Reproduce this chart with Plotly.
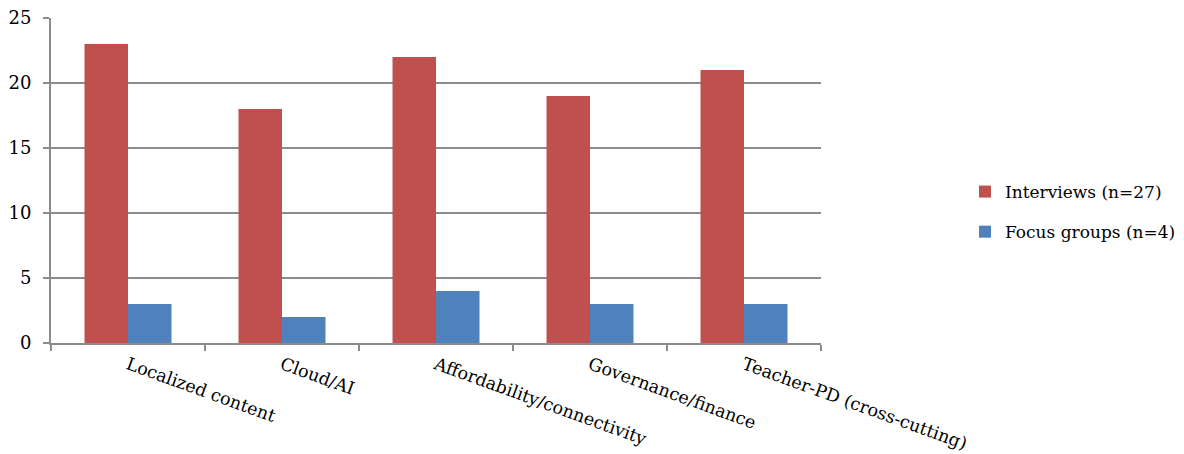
import plotly.graph_objects as go

categories = ["Localized content", "Cloud/AI", "Affordability/connectivity", "Governance/finance", "Teacher-PD (cross-cutting)"]
interviews = [23, 18, 22, 19, 21]
focus_groups = [3, 2, 4, 3, 3]
series_names = ["Interviews (n=27)", "Focus groups (n=4)"]
y_ticks = [0, 5, 10, 15, 20, 25]

FONT = "DejaVu Serif"
GRID = "#8c8c8c"

fig = go.Figure()
fig.add_trace(go.Bar(x=categories, y=interviews, name=series_names[0], legendgroup="a",
                     marker=dict(color="#C0504D", line=dict(width=0))))
fig.add_trace(go.Bar(x=categories, y=focus_groups, name=series_names[1], legendgroup="b",
                     marker=dict(color="#4F81BD", line=dict(width=0))))

fig.update_layout(
    width=1176, height=446,
    margin=dict(l=43, r=363, t=10, b=111, autoexpand=False),
    paper_bgcolor="white", plot_bgcolor="white",
    barmode="group", bargap=0.435, bargroupgap=0,
    font=dict(family=FONT, size=17, color="black"),
    showlegend=True,
    legend=dict(x=1.187, xanchor="left", y=0.403, yanchor="middle",
                font=dict(family=FONT, size=17, color="black"),
                tracegroupgap=15, itemwidth=30),
    xaxis=dict(type="category", tickangle=20, showgrid=False, automargin=False,
               showline=True, linecolor=GRID, linewidth=2,
               ticks="outside", tickson="boundaries", ticklen=6, tickwidth=2, tickcolor=GRID,
               ticklabelstandoff=3, ticklabeloverflow="allow",
               tickfont=dict(family=FONT, size=17.5)),
    yaxis=dict(range=[0, 25], tickvals=y_ticks, showgrid=True, gridcolor=GRID, gridwidth=2,
               automargin=False,
               showline=True, linecolor=GRID, linewidth=2, zeroline=False,
               ticks="outside", ticklen=6, tickwidth=2, tickcolor=GRID,
               ticklabelstandoff=8, ticklabeloverflow="allow",
               tickfont=dict(family=FONT, size=18)),
)

fig.write_html("out.html")
